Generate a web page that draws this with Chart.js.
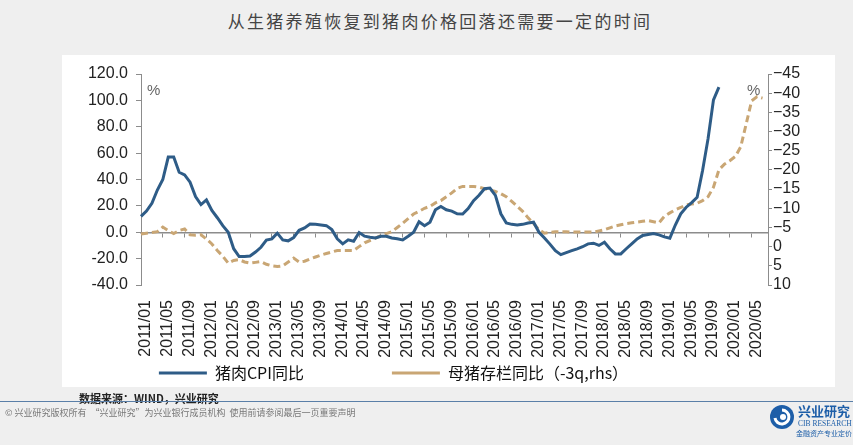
<!DOCTYPE html>
<html>
<head>
<meta charset="utf-8">
<script src="https://cdn.jsdelivr.net/npm/chart.js@4.4.1/dist/chart.umd.min.js"></script>
<style>
html, body { margin: 0; padding: 0; }
body { width: 853px; height: 445px; overflow: hidden; position: relative; background: #efefef; font-family: "Noto Sans CJK SC", sans-serif; }
#title { position: absolute; left: 0; top: 8px; width: 880px; text-align: center; font-size: 17px; letter-spacing: 2.3px; color: #444; }
#panel { position: absolute; left: 62px; top: 55px; width: 773px; height: 332px; background: #fff; }
#wrap { position: absolute; left: -40px; top: 55px; width: 867px; height: 336px; }
.pct { position: absolute; font: 15px "Liberation Sans", Arial, sans-serif; color: #666; }
#src { position: absolute; left: 79px; top: 390px; font-size: 11px; font-weight: bold; color: #222; }
#rule { position: absolute; left: 0; top: 401px; width: 853px; height: 1px; background: #5a7fa8; }
#foot { position: absolute; left: 5px; top: 406px; font-size: 9px; color: #777; white-space: nowrap; }
#logo { position: absolute; left: 768px; top: 403px; width: 85px; height: 40px; white-space: nowrap; }
#logo span { position: absolute; white-space: nowrap; color: #1d5ea8; line-height: 1; }
#logo .cn { left: 30px; top: 1px; font-size: 13px; font-weight: bold; }
#logo .en { left: 30px; top: 16px; font: 7.5px "Liberation Serif", serif; }
#logo .sub { left: 28px; top: 27px; font-size: 7px; }
</style>
</head>
<body>
<div id="title">从生猪养殖恢复到猪肉价格回落还需要一定的时间</div>
<div id="panel"></div>
<div id="wrap"><canvas id="chart" width="867" height="336"></canvas></div>
<div class="pct" style="left:147px;top:81px;">%</div>
<div class="pct" style="left:747px;top:81px;">%</div>
<div id="src">数据来源：WIND，兴业研究</div>
<div id="rule"></div>
<div id="foot">© 兴业研究版权所有 &nbsp;“兴业研究”为兴业银行成员机构 &nbsp;使用前请参阅最后一页重要声明</div>
<div id="logo">
  <svg width="26" height="26" viewBox="0 0 26 26" style="position:absolute;left:1px;top:1px">
    <circle cx="13" cy="13" r="12" fill="#1d5ea8"/>
    <path d="M6 14 A7 7 0 1 0 13 6" stroke="#fff" stroke-width="3" fill="none"/>
    <circle cx="14" cy="13" r="3" fill="#fff"/>
  </svg>
  <span class="cn">兴业研究</span>
  <span class="en">CIB RESEARCH</span>
  <span class="sub">金融资产专业定价</span>
</div>
<script>
// 月度类别：2011/01 — 2020/08
const months = [];
for (let y = 2011; y <= 2020; y++) {
  for (let m = 1; m <= 12; m++) {
    if (y === 2020 && m > 8) break;
    months.push(y + '/' + String(m).padStart(2, '0'));
  }
}

// 猪肉CPI同比 (%)，2011/01 — 2019/11
const porkCpi = [
  12, 16, 22, 32, 40, 57, 57, 45.5, 43.5, 38, 27, 21,
  24.5, 16.5, 11, 5, 0, -12.5, -18.4, -18.4, -18, -15, -11.4, -6,
  -5, -0.7, -5.8, -6.5, -4, 1.5, 3.3, 6.3, 6, 5.5, 5, 2,
  -5, -8.8, -5.8, -6.8, -0.2, -3, -3.8, -4.3, -3, -3, -4.3, -5,
  -5.8, -3, 0, 8, 5, 7.6, 17, 19.5, 17, 16, 14, 13.8,
  18, 24, 28, 33, 33.5, 28, 14, 7, 6, 5.5, 6, 7,
  7.6, 0, -4.3, -9, -14, -17, -15.5, -14, -12.6, -11, -8.8, -8.3,
  -10, -7.6, -12.5, -16.4, -16.4, -12.5, -8.8, -5, -2.5, -1.7, -1, -2,
  -3.5, -4.5, 5.5, 13.9, 19, 22.5, 26.5, 46.8, 70.8, 100.4, 110
];

// 母猪存栏同比 (-3q, rhs)，2011/01 — 2020/07
const sowStock = [
  -3.3, -3.5, -3.7, -3.9, -5.1, -4.2, -3.4, -4.2, -4.6, -3.1, -3.0, -3.1,
  -2, -0.7, 1, 2.5, 4.3, 3.6, 3.4, 4, 4.3, 4.1, 3.9, 4.6,
  5, 5.2, 5, 4, 3, 4, 3.8, 3.2, 2.7, 2.2, 1.8, 1.4,
  1, 1, 1, 1, 0, -1, -1.6, -2.2, -2.9, -3.4, -3.9, -5,
  -6.1, -7.3, -8.5, -9.2, -10, -10.5, -11.4, -12, -13, -14, -15.2, -15.7,
  -15.7, -15.7, -15.5, -15.1, -14.8, -14.4, -13.8, -13, -11.8, -10.5, -9.2, -7.5,
  -6, -4.4, -3.5, -3.7, -3.9, -3.9, -3.9, -3.8, -3.8, -3.8, -3.8, -3.8,
  -4.1, -4.4, -4.9, -5.4, -5.7, -6, -6.2, -6.4, -6.6, -6.8, -6.5, -6.2,
  -7.9, -8.8, -9.6, -10.2, -10.9, -11.1, -11.3, -12, -13, -15.5, -20, -21.5,
  -22.4, -23.5, -26, -32, -38, -39.1, -38.7
];

const axisColor = '#8c8c8c';
const tickFont = { family: '"Liberation Sans", Arial, sans-serif', size: 16 };

const ctx = document.getElementById('chart').getContext('2d');
new Chart(ctx, {
  type: 'line',
  data: {
    labels: months,
    datasets: [
      {
        label: '猪肉CPI同比',
        data: porkCpi,
        xAxisID: 'x',
        yAxisID: 'y',
        borderColor: '#2e5c87',
        backgroundColor: '#2e5c87',
        borderWidth: 3,
        pointRadius: 0,
        tension: 0
      },
      {
        label: '母猪存栏同比（-3q,rhs）',
        data: sowStock,
        xAxisID: 'x',
        yAxisID: 'y1',
        borderColor: '#c9a674',
        backgroundColor: '#c9a674',
        borderWidth: 3,
        borderDash: [7, 4],
        pointRadius: 0,
        tension: 0
      }
    ]
  },
  options: {
    responsive: false,
    animation: false,
    devicePixelRatio: 1,
    layout: { padding: { top: 19, left: 0, right: 0, bottom: 0 } },
    plugins: {
      tooltip: { enabled: false },
      legend: {
        position: 'bottom',
        labels: {
          usePointStyle: true,
          pointStyle: 'line',
          pointStyleWidth: 48,
          boxWidth: 48,
          padding: 8,
          color: '#111',
          font: { family: '"Noto Sans CJK SC", sans-serif', size: 16 },
          generateLabels(chart) {
            const items = Chart.defaults.plugins.legend.labels.generateLabels(chart);
            items[0].text = items[0].text + '\u2003\u2003\u2003\u2003\u2003';
            return items;
          }
        }
      }
    },
    scales: {
      x: {
        type: 'category',
        position: 'bottom',
        offset: false,
        grid: { display: false },
        border: { display: false },
        afterFit(s) { s.height = 72; },
        ticks: {
          autoSkip: false,
          maxRotation: 90,
          minRotation: 90,
          padding: 7,
          labelOffset: 5,
          color: '#222',
          font: tickFont,
          callback(v, i) { return i % 4 === 0 ? this.getLabelForValue(v) : ''; }
        }
      },
      xz: {
        type: 'category',
        position: { y: 0 },
        offset: false,
        ticks: { display: false, autoSkip: false },
        border: { display: true, color: axisColor, width: 1.5 },
        grid: {
          display: true,
          drawOnChartArea: false,
          drawTicks: true,
          tickLength: 4,
          color: c => (c.index % 4 === 0 ? axisColor : 'rgba(0,0,0,0)')
        }
      },
      y: {
        position: 'left',
        min: -40,
        max: 120,
        afterFit(s) { s.width = 181; },
        border: { display: true, color: axisColor, width: 1 },
        grid: { display: true, drawOnChartArea: false, drawTicks: true, tickLength: 5, color: axisColor },
        ticks: {
          stepSize: 20,
          autoSkip: false,
          padding: 8,
          color: '#222',
          font: tickFont,
          callback: v => v.toFixed(1)
        }
      },
      y1: {
        position: 'right',
        reverse: true,
        min: -45,
        max: 10,
        afterFit(s) { s.width = 59; },
        border: { display: true, color: axisColor, width: 1 },
        grid: { display: true, drawOnChartArea: false, drawTicks: true, tickLength: 4, color: axisColor },
        ticks: {
          stepSize: 5,
          autoSkip: false,
          padding: 1,
          color: '#222',
          font: tickFont,
          callback: v => (v < 0 ? '\u2212' + Math.abs(v) : String(v))
        }
      }
    }
  }
});
</script>
</body>
</html>
